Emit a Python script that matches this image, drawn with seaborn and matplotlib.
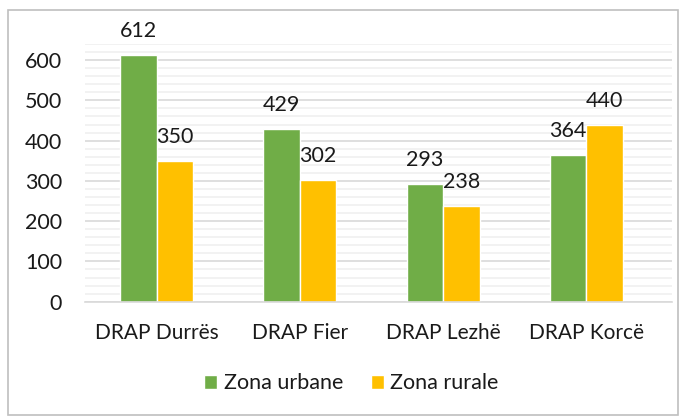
import pandas as pd
import matplotlib.pyplot as plt
import seaborn as sns
from matplotlib.patches import Rectangle
from matplotlib.ticker import MultipleLocator

# Data
regions = ["DRAP Durrës", "DRAP Fier", "DRAP Lezhë", "DRAP Korcë"]
urbane = [612, 429, 293, 364]
rurale = [350, 302, 238, 440]
series = ["Zona urbane", "Zona rurale"]
colors = ["#70ad47", "#ffc000"]

df = pd.DataFrame({
    "region": regions * 2,
    "value": urbane + rurale,
    "zone": [series[0]] * len(regions) + [series[1]] * len(regions),
})

sns.set_style("white")
plt.rcParams["font.family"] = ["Lato", "DejaVu Sans"]
fs = 15.5

fig = plt.figure(figsize=(6.81, 4.19), dpi=100)
ax = fig.add_axes([0.125, 0.28, 0.862, 0.615])

sns.barplot(data=df, x="region", y="value", hue="zone", palette=colors,
            width=0.51, saturation=1, ax=ax, legend=True)

# value labels
for cont in ax.containers:
    ax.bar_label(cont, padding=10, fontsize=fs, color="#1a1a1a")

ax.set_ylim(0, 640)
ax.yaxis.set_major_locator(MultipleLocator(100))
ax.yaxis.set_minor_locator(MultipleLocator(20))
ax.grid(True, which="major", axis="y", color="#d9d9d9", linewidth=1.2)
ax.grid(True, which="minor", axis="y", color="#f0f0f0", linewidth=1.2)
ax.set_axisbelow(True)
ax.set_xlabel("")
ax.set_ylabel("")
for s in ["top", "right", "left"]:
    ax.spines[s].set_visible(False)
ax.spines["bottom"].set_color("#d9d9d9")
ax.spines["bottom"].set_linewidth(1.2)
ax.tick_params(axis="y", labelsize=fs, length=0, pad=16.5, colors="#1a1a1a")
ax.tick_params(axis="x", labelsize=15, length=0, pad=15, colors="#1a1a1a")
ax.set_xlim(-0.5, 3.6)

handles, labels = ax.get_legend_handles_labels()
ax.get_legend().remove()
fig.legend(handles, labels, loc="center", bbox_to_anchor=(0.516, 0.085), ncol=2,
           frameon=False, fontsize=fs, handlelength=0.6, handleheight=0.6,
           handletextpad=0.3, columnspacing=1.3, labelcolor="#1a1a1a")

# outer chart border
fig.patches.append(Rectangle((0.012, 0.01), 0.984, 0.965, transform=fig.transFigure,
                             fill=False, edgecolor="#bfbfbf", linewidth=1.2))

plt.savefig("out.png", dpi=100)
